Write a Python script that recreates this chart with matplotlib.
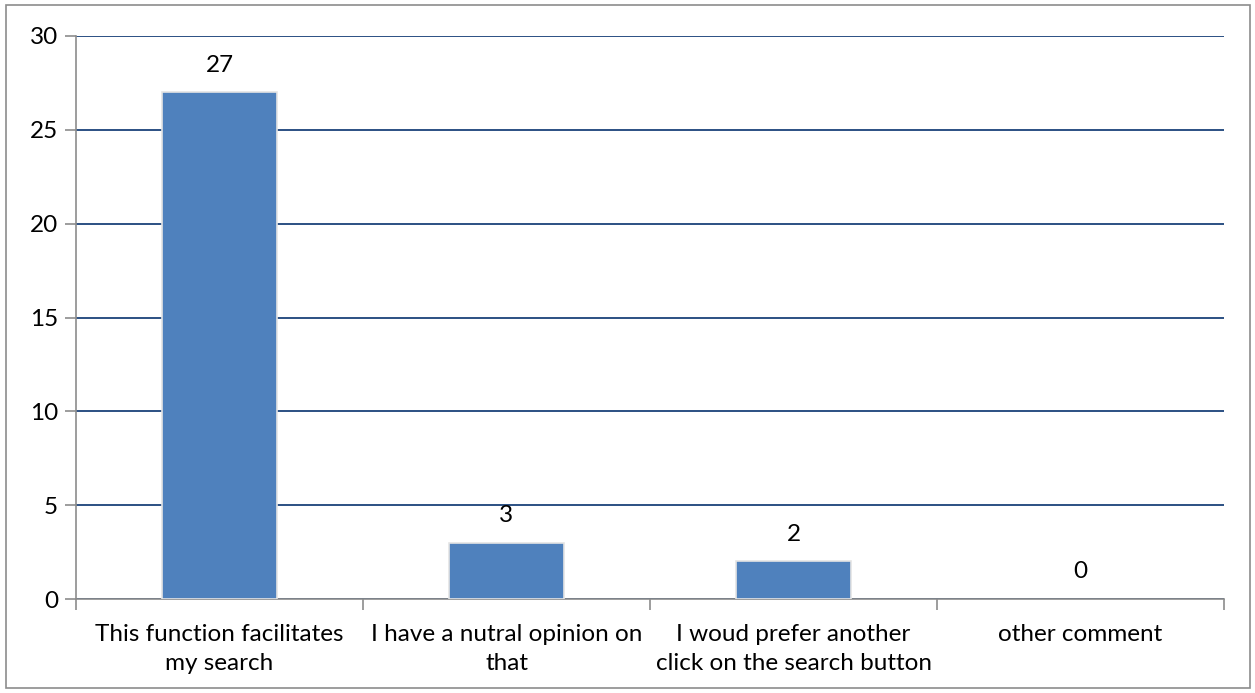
import matplotlib
matplotlib.use("Agg")
import matplotlib.pyplot as plt
from matplotlib.patches import Rectangle

categories = ["This function facilitates\nmy search",
              "I have a nutral opinion on\nthat",
              "I woud prefer another\nclick on the search button",
              "other comment"]
counts = [27, 3, 2, 0]
yticks = [0, 5, 10, 15, 20, 25, 30]

plt.rcParams['font.family'] = ['Lato', 'DejaVu Sans']
fs = 17.5

fig = plt.figure(figsize=(12.55, 6.93), dpi=100)
ax = fig.add_axes([76 / 1255, 1 - 599 / 693, (1224 - 76) / 1255, (599 - 36) / 693])

# outer chart border
fig.patches.append(Rectangle((6 / 1255, 5 / 693), 1244 / 1255, 683 / 693,
                             transform=fig.transFigure, fill=False,
                             edgecolor='#8c8c8c', linewidth=1.2))

x = list(range(len(categories)))
ax.bar(x, counts, width=0.4, color='#4F81BD', edgecolor='#e4e4e4',
       linewidth=[1.2 if v > 0 else 0 for v in counts], zorder=3)
for xi, v in zip(x, counts):
    ax.text(xi, v + 1.45, str(v), ha='center', va='center', fontsize=fs, color='black')

ax.set_xlim(-0.5, len(categories) - 0.5)
ax.set_ylim(0, 30)
ax.set_yticks(yticks)
ax.tick_params(axis='y', length=8, width=1.2, color='#8c8c8c', labelsize=fs, pad=5)
ax.yaxis.grid(True, color='#1A4279', linewidth=1.3, zorder=0)

ax.set_xticks([i - 0.5 for i in range(len(categories) + 1)])
ax.set_xticklabels([])
ax.set_xticks(x, minor=True)
ax.set_xticklabels(categories, minor=True, fontsize=fs, linespacing=1.45)
ax.tick_params(axis='x', which='major', length=8, width=1.2, color='#8c8c8c')
ax.tick_params(axis='x', which='minor', length=0, pad=18)

for s in ['top', 'right']:
    ax.spines[s].set_visible(False)
for s in ['left', 'bottom']:
    ax.spines[s].set_color('#8c8c8c')
    ax.spines[s].set_linewidth(1.2)
ax.set_axisbelow(True)

fig.savefig("out.png", dpi=100)
